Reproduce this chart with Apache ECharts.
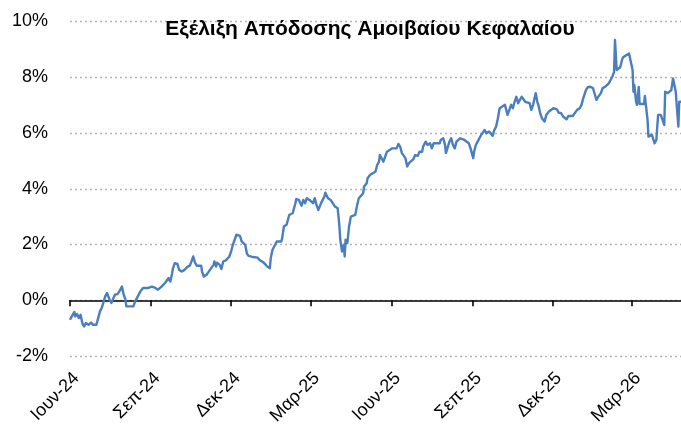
<!DOCTYPE html>
<html>
<head>
<meta charset="utf-8">
<script src="https://cdn.jsdelivr.net/npm/echarts@6/dist/echarts.min.js"></script>
<style>
  html, body { margin: 0; padding: 0; background: #fff; }
  #chart { width: 681px; height: 433px; }
</style>
</head>
<body>
<div id="chart"></div>
<script>
// Start date of the series: 2024-06-03; x values are calendar-day offsets from it.
const startDate = '2024-06-03';

// Day offsets of the sampled observations
const dayOffsets = [
  0,2,5,6,8,10,12,14,16,18,21,24,26,30,32,34,36,38,40,42,44,45,47,49,51,54,56,59,61,63,
  64,66,68,70,72,74,77,80,83,85,89,93,97,100,104,108,110,112,114,116,117,119,122,124,127,130,
  131,133,136,138,140,142,144,146,149,150,152,155,157,159,161,163,164,166,167,170,172,174,177,179,
  181,183,185,187,189,191,193,195,197,199,201,203,205,208,210,213,215,217,220,222,224,227,228,230,
  231,233,235,237,240,241,243,246,247,249,251,253,255,256,257,260,262,263,265,267,269,272,274,276,
  278,280,282,284,286,289,290,293,296,298,301,302,304,305,306,307,308,309,311,312,313,315,317,319,
  321,324,326,328,330,333,334,337,338,341,344,347,349,351,352,354,356,358,360,363,366,368,371,373,
  375,377,379,381,383,385,387,390,392,395,397,400,401,404,406,409,411,413,416,418,420,421,424,426,
  427,429,431,433,435,437,439,441,443,445,448,450,453,455,457,458,459,461,463,465,467,469,471,473,
  474,476,478,480,482,484,486,488,491,494,495,497,499,501,503,505,507,509,511,513,515,517,519,522,
  524,526,529,531,532,534,536,539,541,544,546,549,551,553,555,558,560,562,564,566,568,571,573,576,
  579,581,583,586,588,591,594,596,598,600,603,605,606,608,610,612,614,616,618,619,621,622,625,627,
  628,630,632,635,637,639,640,641,643,644,646,647,649,652,653,656,657,659,661,663,664,666,668,671,
  673,675,676,679,681,683,685,687,688,691,692,694
];

// Cumulative fund return (%) at each observation
const fundReturn = [
  -0.70,-0.58,-0.42,-0.58,-0.49,-0.64,-0.52,-0.82,-0.94,-0.82,-0.88,-0.80,-0.88,-0.88,-0.64,-0.40,-0.28,-0.22,0.14,0.26,0.20,0.02,-0.10,-0.04,0.20,0.22,0.32,0.49,0.20,0.02,
  -0.22,-0.16,-0.22,-0.16,-0.22,-0.04,0.14,0.32,0.44,0.49,0.44,0.49,0.44,0.38,0.49,0.62,0.56,0.80,0.67,0.97,1.15,1.33,1.30,1.09,1.03,1.09,
  1.12,1.19,1.24,1.39,1.57,1.35,1.24,1.27,1.24,1.03,0.85,0.91,0.95,1.09,1.12,1.27,1.39,1.21,1.35,1.27,1.12,1.39,1.43,1.39,
  1.57,1.75,1.99,2.17,2.35,2.35,2.31,2.11,2.05,1.99,1.67,1.59,1.63,1.55,1.51,1.53,1.45,1.51,1.35,1.33,1.21,1.15,1.51,1.81,
  1.87,1.99,2.11,2.05,2.11,2.23,2.65,2.71,2.77,3.06,3.13,3.13,3.18,3.48,3.63,3.60,3.64,3.39,3.60,3.48,3.66,3.60,3.63,3.48,
  3.66,3.42,3.24,3.18,3.54,3.72,3.86,3.66,3.60,3.58,3.36,3.42,3.30,3.00,2.65,2.17,2.23,1.75,1.99,1.57,2.17,2.05,2.65,3.00,
  3.06,3.06,3.39,3.66,3.70,3.84,4.08,4.20,4.38,4.50,4.56,4.62,4.86,4.97,5.21,5.15,4.97,5.15,5.33,5.39,5.45,5.51,5.45,5.61,
  5.51,5.28,5.21,5.10,4.80,4.92,4.97,5.06,5.21,5.18,5.33,5.33,5.51,5.69,5.57,5.63,5.45,5.63,5.63,5.69,5.63,5.75,5.81,5.57,
  5.28,5.33,5.69,5.81,5.57,5.45,5.69,5.75,5.81,5.87,5.75,5.81,5.63,5.45,5.39,5.10,5.33,5.57,5.69,5.81,5.93,5.87,6.11,5.99,
  6.05,6.05,5.99,5.90,6.11,6.23,6.53,6.89,6.95,7.01,6.89,6.65,6.71,7.01,6.89,7.12,7.30,7.07,7.19,7.30,7.25,7.12,7.09,7.07,
  6.83,7.01,7.43,7.09,7.01,6.71,6.53,6.41,6.65,6.77,6.71,6.89,6.92,6.85,6.73,6.71,6.59,6.65,6.49,6.61,6.65,6.61,6.65,6.83,
  6.89,7.01,7.25,7.54,7.64,7.66,7.61,7.40,7.19,7.30,7.43,7.61,7.54,7.66,7.72,7.78,7.90,8.02,8.19,9.34,8.26,8.26,8.36,8.62,
  8.71,8.69,8.80,8.85,8.85,8.26,7.48,7.72,7.12,7.01,7.65,7.04,7.11,7.04,7.33,6.47,5.87,5.81,5.93,5.87,5.63,5.75,6.65,6.65,
  6.59,6.29,7.48,7.43,7.48,7.54,7.96,7.96,7.48,6.23,7.12,7.12
];

// Quarterly tick positions (day offsets) and their labels
const tickDays = [0, 92, 183, 273, 365, 457, 548, 638];
const tickLabels = ['Ιουν-24', 'Σεπ-24', 'Δεκ-24', 'Μαρ-25', 'Ιουν-25', 'Σεπ-25', 'Δεκ-25', 'Μαρ-26'];

const titleText = 'Εξέλιξη Απόδοσης Αμοιβαίου Κεφαλαίου';
const yMin = -2, yMax = 10, yStep = 2;
const xMax = 694;

const seriesData = dayOffsets.map((d, i) => [d, fundReturn[i]]);
const FONT = 'Liberation Sans, Arial, sans-serif';

const chart = echarts.init(document.getElementById('chart'), null, { renderer: 'canvas' });
chart.setOption({
  backgroundColor: '#ffffff',
  animation: false,
  title: {
    text: titleText,
    left: 365,
    top: 14,
    textAlign: 'center',
    textStyle: { fontFamily: FONT, fontSize: 21, fontWeight: 'bold', color: '#000' }
  },
  grid: { left: 70, right: 0, top: 21.5, bottom: 77, containLabel: false },
  xAxis: [
    {
      type: 'value',
      min: 0,
      max: xMax,
      position: 'bottom',
      axisLine: { show: true, onZero: true, lineStyle: { color: '#000', width: 1.6 } },
      axisTick: { show: true, customValues: tickDays, length: 6, inside: false, lineStyle: { color: '#000', width: 1.6 } },
      axisLabel: { show: false },
      splitLine: { show: false }
    },
    {
      type: 'value',
      min: 0,
      max: xMax,
      position: 'bottom',
      axisLine: { show: false, onZero: false },
      axisTick: { show: false },
      splitLine: { show: false },
      axisLabel: {
        show: true,
        customValues: tickDays,
        rotate: 45,
        margin: 13,
        verticalAlign: 'top',
        fontFamily: FONT,
        fontSize: 18,
        color: '#000',
        formatter: (v) => {
          const k = tickDays.indexOf(Math.round(v));
          return k >= 0 ? tickLabels[k] : '';
        }
      }
    }
  ],
  yAxis: {
    type: 'value',
    min: yMin,
    max: yMax,
    interval: yStep,
    axisLine: { show: false },
    axisTick: { show: false },
    axisLabel: {
      margin: 22,
      fontFamily: FONT,
      fontSize: 18,
      color: '#000',
      formatter: '{value}%'
    },
    splitLine: { show: true, lineStyle: { color: '#b4b4b4', width: 1.3, type: [2, 3] } }
  },
  series: [{
    type: 'line',
    xAxisIndex: 0,
    data: seriesData,
    showSymbol: false,
    symbol: 'none',
    smooth: false,
    lineStyle: { color: '#4a7ebf', width: 2.4, join: 'round' },
    z: 3
  }]
});
</script>
</body>
</html>
